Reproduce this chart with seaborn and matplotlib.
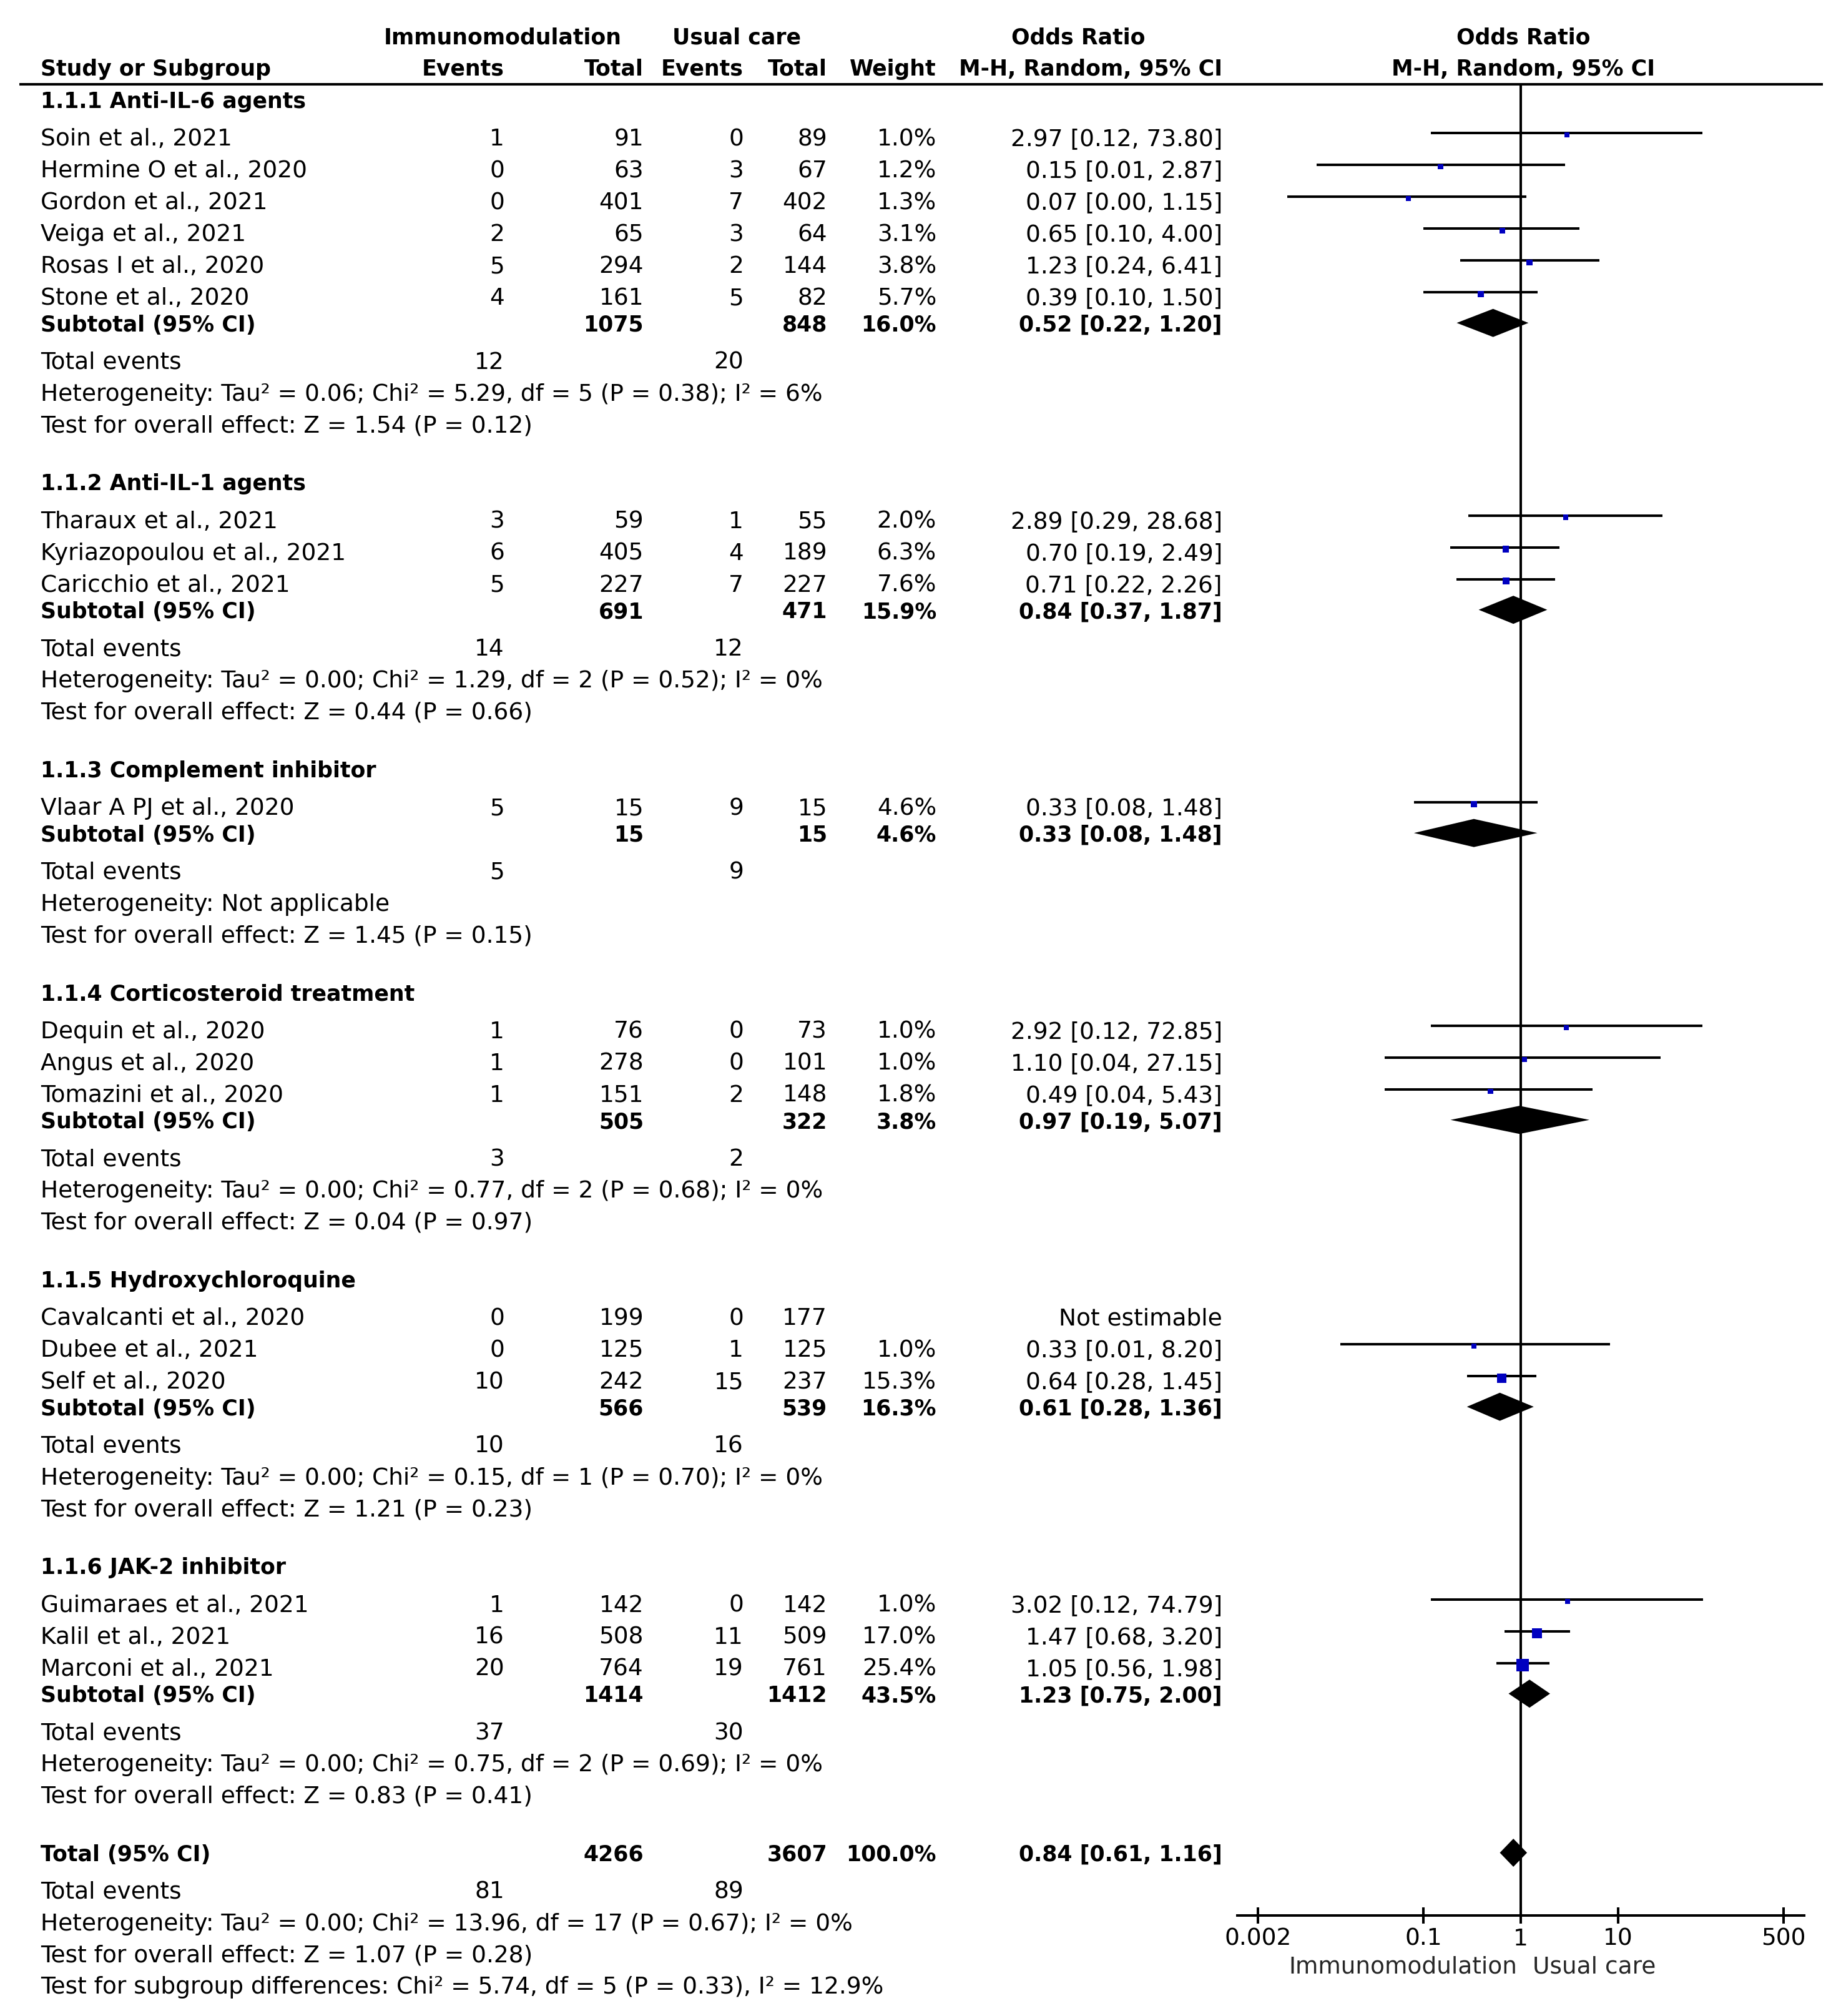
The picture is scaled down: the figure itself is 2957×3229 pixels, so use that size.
import numpy as np
import pandas as pd
import matplotlib
matplotlib.use("Agg")
import matplotlib.pyplot as plt
import seaborn as sns

# ---- values ----
group_names = ["1.1.1 Anti-IL-6 agents", "1.1.2 Anti-IL-1 agents",
               "1.1.3 Complement inhibitor", "1.1.4 Corticosteroid treatment",
               "1.1.5 Hydroxychloroquine", "1.1.6 JAK-2 inhibitor"]

study_names = ["Soin et al., 2021", "Hermine O et al., 2020", "Gordon et al., 2021",
               "Veiga et al., 2021", "Rosas I et al., 2020", "Stone et al., 2020",
               "Tharaux et al., 2021", "Kyriazopoulou et al., 2021", "Caricchio et al., 2021",
               "Vlaar A PJ et al., 2020",
               "Dequin et al., 2020", "Angus et al., 2020", "Tomazini et al., 2020",
               "Cavalcanti et al., 2020", "Dubee et al., 2021", "Self et al., 2020",
               "Guimaraes et al., 2021", "Kalil et al., 2021", "Marconi et al., 2021"]
study_group = [0, 0, 0, 0, 0, 0, 1, 1, 1, 2, 3, 3, 3, 4, 4, 4, 5, 5, 5]
ev_treat = [1, 0, 0, 2, 5, 4, 3, 6, 5, 5, 1, 1, 1, 0, 0, 10, 1, 16, 20]
n_treat = [91, 63, 401, 65, 294, 161, 59, 405, 227, 15, 76, 278, 151, 199, 125, 242, 142, 508, 764]
ev_ctrl = [0, 3, 7, 3, 2, 5, 1, 4, 7, 9, 0, 0, 2, 0, 1, 15, 0, 11, 19]
n_ctrl = [89, 67, 402, 64, 144, 82, 55, 189, 227, 15, 73, 101, 148, 177, 125, 237, 142, 509, 761]
weight = [1.0, 1.2, 1.3, 3.1, 3.8, 5.7, 2.0, 6.3, 7.6, 4.6, 1.0, 1.0, 1.8,
          np.nan, 1.0, 15.3, 1.0, 17.0, 25.4]
or_est = [2.97, 0.15, 0.07, 0.65, 1.23, 0.39, 2.89, 0.70, 0.71, 0.33, 2.92, 1.10, 0.49,
          np.nan, 0.33, 0.64, 3.02, 1.47, 1.05]
# lower limits shown as 0.01 / 0.00 are estimated from where the lines end
or_lo = [0.12, 0.008, 0.004, 0.10, 0.24, 0.10, 0.29, 0.19, 0.22, 0.08, 0.12, 0.04, 0.04,
         np.nan, 0.014, 0.28, 0.12, 0.68, 0.56]
or_hi = [73.80, 2.87, 1.15, 4.00, 6.41, 1.50, 28.68, 2.49, 2.26, 1.48, 72.85, 27.15, 5.43,
         np.nan, 8.20, 1.45, 74.79, 3.20, 1.98]

sub_n_treat = [1075, 691, 15, 505, 566, 1414]
sub_n_ctrl = [848, 471, 15, 322, 539, 1412]
sub_weight = [16.0, 15.9, 4.6, 3.8, 16.3, 43.5]
sub_est = [0.52, 0.84, 0.33, 0.97, 0.61, 1.23]
sub_lo = [0.22, 0.37, 0.08, 0.19, 0.28, 0.75]
sub_hi = [1.20, 1.87, 1.48, 5.07, 1.36, 2.00]
sub_ev_treat = [12, 14, 5, 3, 10, 37]
sub_ev_ctrl = [20, 12, 9, 2, 16, 30]
sub_het = ["Tau² = 0.06; Chi² = 5.29, df = 5 (P = 0.38); I² = 6%",
           "Tau² = 0.00; Chi² = 1.29, df = 2 (P = 0.52); I² = 0%",
           "Not applicable",
           "Tau² = 0.00; Chi² = 0.77, df = 2 (P = 0.68); I² = 0%",
           "Tau² = 0.00; Chi² = 0.15, df = 1 (P = 0.70); I² = 0%",
           "Tau² = 0.00; Chi² = 0.75, df = 2 (P = 0.69); I² = 0%"]
sub_z = [1.54, 0.44, 1.45, 0.04, 1.21, 0.83]
sub_p = [0.12, 0.66, 0.15, 0.97, 0.23, 0.41]

total_n = [4266, 3607]
total_events = [81, 89]
total_or = [0.84, 0.61, 1.16]
total_het = "Tau² = 0.00; Chi² = 13.96, df = 17 (P = 0.67); I² = 0%"
total_z = [1.07, 0.28]
subgroup_diff = "Chi² = 5.74, df = 5 (P = 0.33), I² = 12.9%"

axis_ticks = [0.002, 0.1, 1, 10, 500]
axis_ticklabels = ["0.002", "0.1", "1", "10", "500"]

# ---- layout (figure pixels) ----
W, H = 2957, 3230
FS, FSB = 27, 25
X_LAB, X_EVT, X_NT, X_EVC, X_NC, X_W, X_OR = 65, 808, 1031, 1191, 1325, 1500, 1958
X_HEAD = 2440
DEC = 2.91  # decades shown either side of 1
AX_L, AX_R, AX_TOP, AX_BOT = 1982, 2890, 137, 3069
BLUE = "#0000C0"
LW = 2.9

STEP, GAP_HEAD, GAP_SUB, GAP_TE, GAP_HET, GAP_TEST, GAP_NEXT = 51, 59.2, 43.5, 59, 51, 50.5, 94.3

sns.set_theme(style="white")
plt.rcParams["font.family"] = ["DejaVu Sans"]

fig = plt.figure(figsize=(W / 100, H / 100), dpi=100)
tx = fig.add_axes([0, 0, 1, 1])
tx.set_xlim(0, W)
tx.set_ylim(H, 0)
tx.axis("off")

fx = fig.add_axes([AX_L / W, 1 - AX_BOT / H, (AX_R - AX_L) / W, (AX_BOT - AX_TOP) / H])
fx.patch.set_alpha(0)


def put(x, y, s, ha="left", bold=False):
    fs = FSB if bold else FS
    em = fs * 100 / 72
    tx.text(x, y + 0.36 * em, s, ha=ha, va="baseline", fontsize=fs,
            fontweight="bold" if bold else "normal", color="black")


# header
put(805, 58, "Immunomodulation", ha="center", bold=True)
put(1180, 58, "Usual care", ha="center", bold=True)
put(1727, 58, "Odds Ratio", ha="center", bold=True)
put(X_HEAD, 58, "Odds Ratio", ha="center", bold=True)
put(X_LAB, 108, "Study or Subgroup", bold=True)
for x, s in [(X_EVT, "Events"), (X_NT, "Total"), (X_EVC, "Events"), (X_NC, "Total"),
             (X_W, "Weight"), (X_OR, "M-H, Random, 95% CI")]:
    put(x, 108, s, ha="right", bold=True)
put(X_HEAD, 108, "M-H, Random, 95% CI", ha="center", bold=True)
tx.plot([31, 2920], [136, 136], color="black", lw=LW, solid_capstyle="butt")

# rows
study_y = np.zeros(len(study_names))
sub_y = np.zeros(len(group_names))
y = 160.5
for g, gname in enumerate(group_names):
    put(X_LAB, y, gname, bold=True)
    idx = [i for i, sg in enumerate(study_group) if sg == g]
    y += GAP_HEAD
    for k, i in enumerate(idx):
        if k > 0:
            y += STEP
        study_y[i] = y
        put(X_LAB, y, study_names[i])
        put(X_EVT, y, str(ev_treat[i]), ha="right")
        put(X_NT, y, str(n_treat[i]), ha="right")
        put(X_EVC, y, str(ev_ctrl[i]), ha="right")
        put(X_NC, y, str(n_ctrl[i]), ha="right")
        if np.isnan(or_est[i]):
            put(X_OR, y, "Not estimable", ha="right")
        else:
            put(X_W, y, f"{weight[i]:.1f}%", ha="right")
            put(X_OR, y, f"{or_est[i]:.2f} [{or_lo[i]:.2f}, {or_hi[i]:.2f}]", ha="right")
    y += GAP_SUB
    sub_y[g] = y
    put(X_LAB, y, "Subtotal (95% CI)", bold=True)
    put(X_NT, y, str(sub_n_treat[g]), ha="right", bold=True)
    put(X_NC, y, str(sub_n_ctrl[g]), ha="right", bold=True)
    put(X_W, y, f"{sub_weight[g]:.1f}%", ha="right", bold=True)
    put(X_OR, y, f"{sub_est[g]:.2f} [{sub_lo[g]:.2f}, {sub_hi[g]:.2f}]", ha="right", bold=True)
    y += GAP_TE
    put(X_LAB, y, "Total events")
    put(X_EVT, y, str(sub_ev_treat[g]), ha="right")
    put(X_EVC, y, str(sub_ev_ctrl[g]), ha="right")
    y += GAP_HET
    put(X_LAB, y, "Heterogeneity: " + sub_het[g])
    y += GAP_TEST
    put(X_LAB, y, f"Test for overall effect: Z = {sub_z[g]:.2f} (P = {sub_p[g]:.2f})")
    y += GAP_NEXT

total_y = y
put(X_LAB, y, "Total (95% CI)", bold=True)
put(X_NT, y, str(total_n[0]), ha="right", bold=True)
put(X_NC, y, str(total_n[1]), ha="right", bold=True)
put(X_W, y, "100.0%", ha="right", bold=True)
put(X_OR, y, f"{total_or[0]:.2f} [{total_or[1]:.2f}, {total_or[2]:.2f}]", ha="right", bold=True)
y += GAP_TE
put(X_LAB, y, "Total events")
put(X_EVT, y, str(total_events[0]), ha="right")
put(X_EVC, y, str(total_events[1]), ha="right")
y += GAP_HET
put(X_LAB, y, "Heterogeneity: " + total_het)
y += GAP_TEST
put(X_LAB, y, f"Test for overall effect: Z = {total_z[0]:.2f} (P = {total_z[1]:.2f})")
y += GAP_TEST
put(X_LAB, y, "Test for subgroup differences: " + subgroup_diff)

# ---- forest panel ----
studies = pd.DataFrame({"est": or_est, "lo": or_lo, "hi": or_hi, "w": weight, "y": study_y})
studies = studies.dropna()

fx.axvline(1, color="black", lw=LW, zorder=1)
fx.hlines(studies["y"] - 5.5, studies["lo"], studies["hi"], color="black", lw=LW, zorder=2)
side_pt = (7.5 + 0.49 * studies["w"]) * 0.72
sns.scatterplot(x=studies["est"], y=studies["y"] - 2.5, marker="s", s=side_pt ** 2,
                color=BLUE, linewidth=0, legend=False, ax=fx, zorder=3)

half = 22.5
for est, lo, hi, yy in list(zip(sub_est, sub_lo, sub_hi, sub_y)) + \
        [(total_or[0], total_or[1], total_or[2], total_y)]:
    fx.fill([lo, est, hi, est], [yy, yy - half, yy, yy + half], color="black", lw=0, zorder=3)

fx.set_xscale("log")
fx.set_xlim(10 ** -DEC, 10 ** DEC)
fx.set_ylim(AX_BOT, AX_TOP)
fx.minorticks_off()
fx.set_xticks(axis_ticks)
fx.set_xticklabels(axis_ticklabels)
fx.set_yticks([])
fx.set_xlabel("")
fx.set_ylabel("")
for side in ["top", "left", "right"]:
    fx.spines[side].set_visible(False)
fx.spines["bottom"].set_color("black")
fx.spines["bottom"].set_linewidth(LW)
fx.tick_params(axis="x", direction="inout", length=18.7, width=LW, color="black",
               labelsize=FS, labelcolor="black", pad=4, bottom=True)
fx.grid(False)

em = FS * 100 / 72
tx.text(2430, 3147 + 0.36 * em, "Immunomodulation", ha="right", va="baseline", fontsize=FS)
tx.text(2455, 3147 + 0.36 * em, "Usual care", ha="left", va="baseline", fontsize=FS)

fig.savefig("out.png", dpi=100)
